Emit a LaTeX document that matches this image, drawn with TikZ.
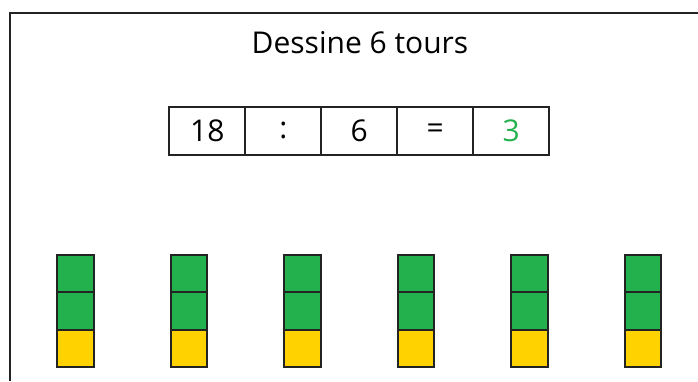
\documentclass[tikz,border=0pt]{standalone}
\usepackage{fontspec}
\setmainfont{Open Sans}
\usepackage{tikz}
\usetikzlibrary{calc}

\definecolor{towergreen}{RGB}{34,177,76}
\definecolor{toweryellow}{RGB}{255,210,0}
\definecolor{edge}{RGB}{35,35,35}

\begin{document}
\begin{tikzpicture}[x=1pt,y=-1pt]
\tikzstyle{eqcell} = [draw=edge,line width=2.3pt,minimum width=76pt,minimum height=48pt,inner sep=0pt,font=\fontsize{30}{32}\selectfont]
\tikzstyle{cube} = [draw=edge,line width=2pt,minimum width=36.5pt,minimum height=37.3pt,inner sep=0pt]
\tikzstyle{gcube} = [cube,fill=towergreen]
\tikzstyle{ycube} = [cube,fill=toweryellow]

\useasboundingbox (0,0) rectangle (698,381);

% frame
\draw[line width=2pt,color=edge] (10,381) -- (10,12.5) -- (698,12.5);

% title
\draw(360,43) node[font=\fontsize{30}{32}\selectfont] (title) {Dessine 6 tours};

% equation
\draw(207.3,130.8) node[eqcell]                 (dividend) {18};
\draw(283.3,130.8) node[eqcell]                 (divsign)  {:};
\draw(359.3,130.8) node[eqcell]                 (divisor)  {6};
\draw(435.3,130.8) node[eqcell]                 (eqsign)   {=};
\draw(511.3,130.8) node[eqcell,text=towergreen] (quotient) {3};

% towers
\draw(75.3,273.7) node[gcube]  (t1a) {};
\draw(75.3,311)   node[gcube]  (t1b) {};
\draw(75.3,348.3) node[ycube]  (t1c) {};

\draw(188.8,273.7) node[gcube] (t2a) {};
\draw(188.8,311)   node[gcube] (t2b) {};
\draw(188.8,348.3) node[ycube] (t2c) {};

\draw(302.3,273.7) node[gcube] (t3a) {};
\draw(302.3,311)   node[gcube] (t3b) {};
\draw(302.3,348.3) node[ycube] (t3c) {};

\draw(415.8,273.7) node[gcube] (t4a) {};
\draw(415.8,311)   node[gcube] (t4b) {};
\draw(415.8,348.3) node[ycube] (t4c) {};

\draw(529.3,273.7) node[gcube] (t5a) {};
\draw(529.3,311)   node[gcube] (t5b) {};
\draw(529.3,348.3) node[ycube] (t5c) {};

\draw(642.8,273.7) node[gcube] (t6a) {};
\draw(642.8,311)   node[gcube] (t6b) {};
\draw(642.8,348.3) node[ycube] (t6c) {};

\end{tikzpicture}
\end{document}
